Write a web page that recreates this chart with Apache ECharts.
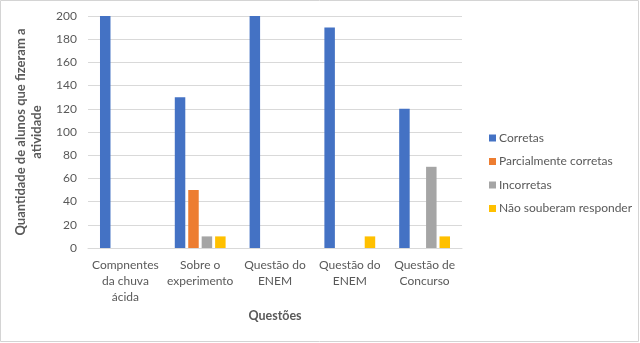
<!DOCTYPE html>
<html>
<head>
<meta charset="utf-8">
<script src="https://cdn.jsdelivr.net/npm/echarts@6/dist/echarts.min.js"></script>
<style>
  html, body { margin: 0; padding: 0; background: #fff; }
  #chart { width: 640px; height: 343px; }
</style>
</head>
<body>
<div id="chart"></div>
<script>
// Questions asked and how the students answered each one
const categories = ['Compnentes\nda chuva\nácida', 'Sobre o\nexperimento', 'Questão do\nENEM', 'Questão do\nENEM', 'Questão de\nConcurso'];
const corretas = [200, 130, 200, 190, 120];
const parcialmente = [0, 50, 0, 0, 0];
const incorretas = [0, 10, 0, 0, 70];
const naoSouberam = [0, 10, 0, 10, 10];
const yTicks = [0, 20, 40, 60, 80, 100, 120, 140, 160, 180, 200];

const font = 'Lato, "Open Sans", sans-serif';
const textColor = '#595959';

const chart = echarts.init(document.getElementById('chart'), null, { renderer: 'canvas' });

function barSeries(name, data, color) {
  return {
    name: name,
    type: 'bar',
    data: data,
    barWidth: 10.5,
    barGap: '28%',
    itemStyle: { color: color },
    emphasis: { disabled: true }
  };
}

chart.setOption({
  animation: false,
  textStyle: { fontFamily: font },
  graphic: [{
    type: 'rect',
    shape: { x: 0.5, y: 0.5, width: 638, height: 341 },
    style: { fill: 'none', stroke: '#d4d4d4', lineWidth: 1 },
    silent: true
  }],
  grid: { left: 88, right: 178, top: 16, bottom: 95, containLabel: false },
  legend: {
    orient: 'vertical',
    left: 484,
    top: 126,
    itemWidth: 7,
    itemHeight: 7,
    itemGap: 9.5,
    icon: 'rect',
    textStyle: { color: textColor, fontSize: 12, fontFamily: font, lineHeight: 14, padding: [0, 0, 0, -2] },
    data: ['Corretas', 'Parcialmente corretas', 'Incorretas', 'Não souberam responder']
  },
  xAxis: {
    type: 'category',
    data: categories,
    name: 'Questões',
    nameLocation: 'middle',
    nameGap: 56,
    nameTextStyle: { color: textColor, fontWeight: 'bold', fontSize: 12.5, fontFamily: font },
    axisLine: { lineStyle: { color: '#d9d9d9' } },
    axisTick: { show: false },
    axisLabel: { color: textColor, fontSize: 12, lineHeight: 16, margin: 9, interval: 0, fontFamily: font }
  },
  yAxis: {
    type: 'value',
    min: yTicks[0],
    max: yTicks[yTicks.length - 1],
    interval: yTicks[1] - yTicks[0],
    name: 'Quantidade de alunos que fizeram a\natividade',
    nameLocation: 'middle',
    nameRotate: 90,
    nameGap: 42,
    nameTextStyle: { color: textColor, fontWeight: 'bold', fontSize: 13, lineHeight: 16, fontFamily: font },
    axisLine: { show: false },
    axisTick: { show: false },
    splitLine: { lineStyle: { color: '#d9d9d9' } },
    axisLabel: { color: textColor, fontSize: 12, margin: 11, fontFamily: font }
  },
  series: [
    barSeries('Corretas', corretas, '#4472C4'),
    barSeries('Parcialmente corretas', parcialmente, '#ED7D31'),
    barSeries('Incorretas', incorretas, '#A5A5A5'),
    barSeries('Não souberam responder', naoSouberam, '#FFC000')
  ]
});
</script>
</body>
</html>
